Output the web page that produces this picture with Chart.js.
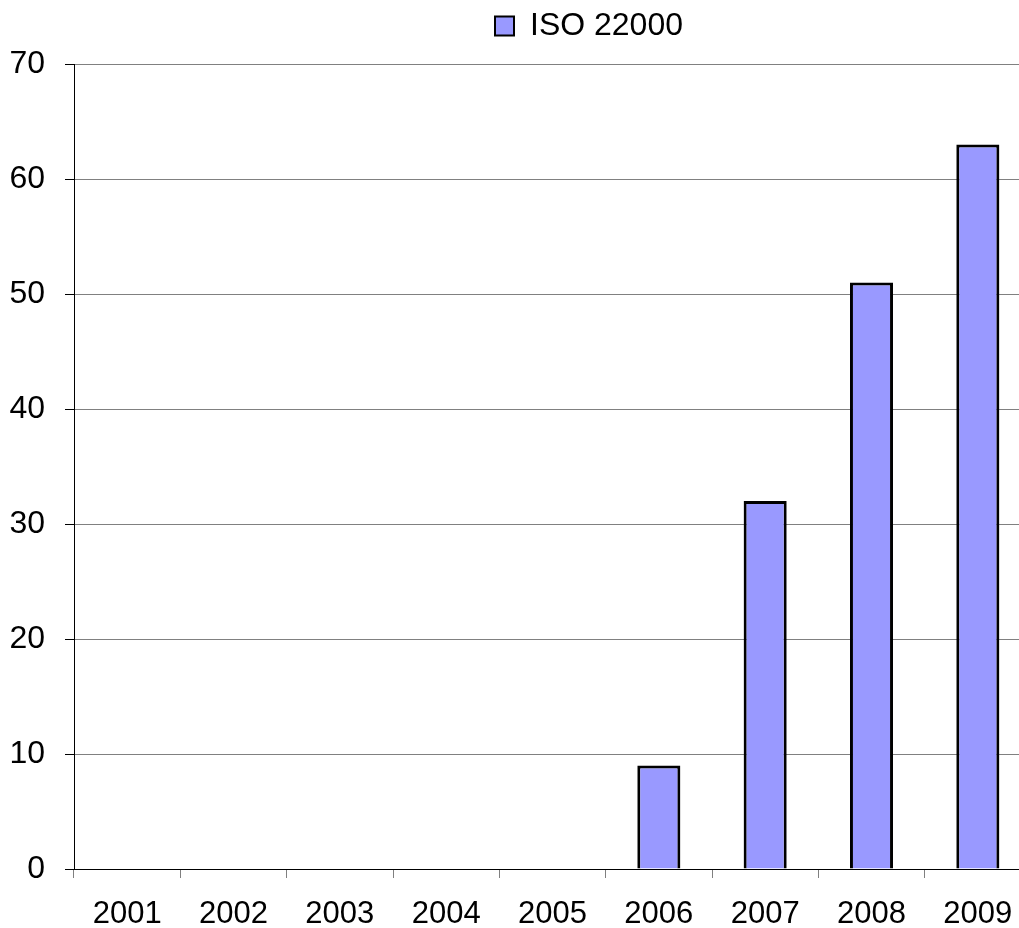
<!DOCTYPE html>
<html>
<head>
<meta charset="utf-8">
<script src="https://cdn.jsdelivr.net/npm/chart.js@4/dist/chart.umd.min.js"></script>
<style>
  html, body { margin: 0; padding: 0; overflow: hidden; background: #fff; }
  #wrap { width: 1031px; height: 928px; }
</style>
</head>
<body>
<div id="wrap"><canvas id="c" width="1031" height="928"></canvas></div>
<script>
const categories = ['2001', '2002', '2003', '2004', '2005', '2006', '2007', '2008', '2009'];
const seriesName = 'ISO 22000';
const seriesValues = [0, 0, 0, 0, 0, 9, 32, 51, 63];
const yTicks = [0, 10, 20, 30, 40, 50, 60, 70];

const FONT = "'Liberation Sans', Arial, sans-serif";

const legendShift = {
  id: 'legendShift',
  afterLayout(chart) {
    const lg = chart.legend;
    if (lg) {
      const pad = lg.options.labels.padding;
      const w = lg.right - lg.left;
      lg.left = 495 - pad;
      lg.right = lg.left + w;
      lg.top -= 12;
      lg.bottom -= 12;
    }
  }
};

new Chart(document.getElementById('c'), {
  type: 'bar',
  data: {
    labels: categories,
    datasets: [{
      label: seriesName,
      data: seriesValues,
      backgroundColor: '#9999FF',
      borderColor: '#000000',
      borderWidth: 3,
      categoryPercentage: 1.0,
      barPercentage: 0.405
    }]
  },
  options: {
    responsive: false,
    animation: false,
    devicePixelRatio: 1,
    layout: { padding: 0 },
    plugins: {
      tooltip: { enabled: false },
      legend: {
        display: true,
        position: 'top',
        align: 'start',
        labels: {
          boxWidth: 19,
          boxHeight: 19,
          padding: 10,
          color: '#000',
          font: { family: FONT, size: 32 },
          generateLabels(chart) {
            const items = Chart.defaults.plugins.legend.labels.generateLabels(chart);
            items.forEach(it => { it.lineWidth = 2; });
            return items;
          }
        }
      }
    },
    scales: {
      x: {
        type: 'category',
        offset: true,
        grid: {
          display: true,
          offset: true,
          drawOnChartArea: false,
          drawTicks: true,
          tickLength: 9,
          tickColor: '#808080',
          tickWidth: 1
        },
        border: { display: true, color: '#000', width: 1 },
        ticks: {
          color: '#000',
          font: { family: FONT, size: 31 },
          padding: 18,
          maxRotation: 0,
          autoSkip: false
        },
        afterFit(scale) {
          scale.height = 59;
          scale.paddingLeft = 0;
          scale.paddingRight = 0;
        }
      },
      y: {
        min: 0,
        max: 70,
        afterBuildTicks(scale) {
          scale.ticks = yTicks.map(v => ({ value: v }));
        },
        grid: {
          color: '#808080',
          lineWidth: 1,
          drawTicks: true,
          tickLength: 9,
          tickColor: '#000',
          tickWidth: 1
        },
        border: { display: true, color: '#000', width: 1 },
        ticks: {
          color: '#000',
          font: { family: FONT, size: 32 },
          padding: 20,
          stepSize: 10
        },
        afterFit(scale) {
          scale.width = 74;
          scale.paddingTop = 64;
        }
      }
    }
  },
  plugins: [legendShift]
});
</script>
</body>
</html>
